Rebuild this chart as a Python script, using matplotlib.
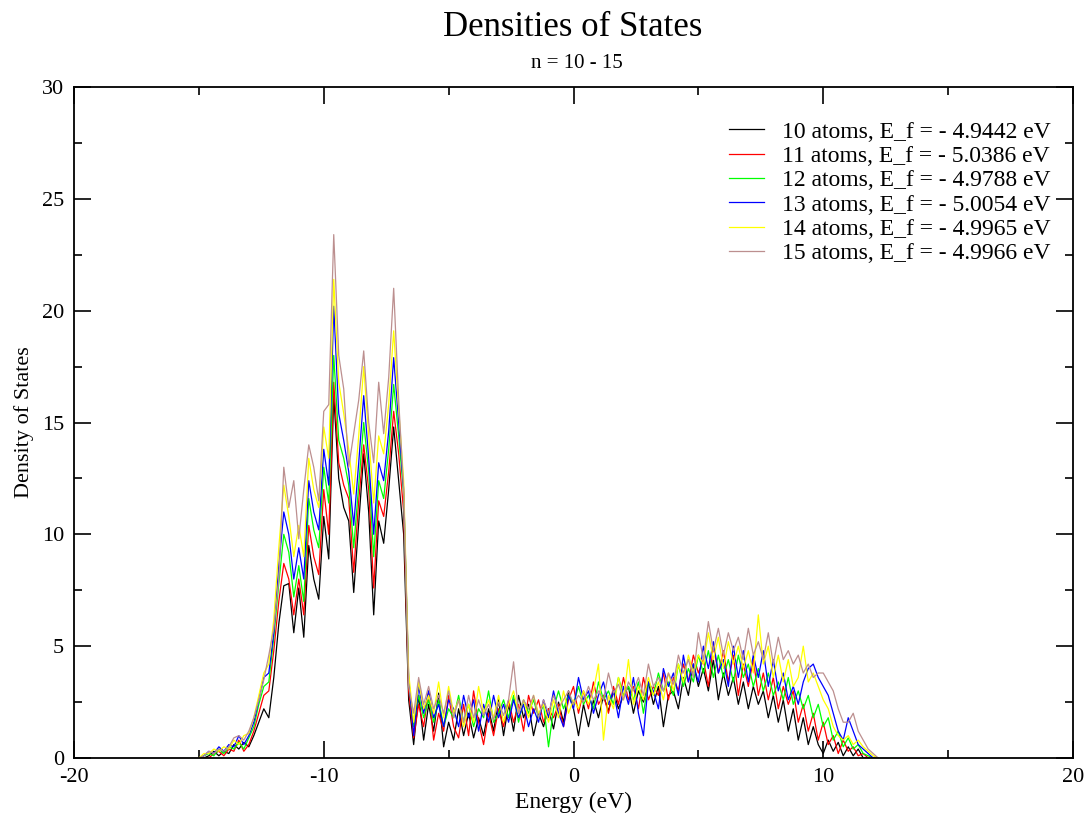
import numpy as np
import matplotlib
matplotlib.use("Agg")
import matplotlib.pyplot as plt
from matplotlib.ticker import MultipleLocator

plt.rcParams["font.family"] = ["Liberation Serif", "DejaVu Serif"]
plt.rcParams["axes.unicode_minus"] = False

# Energy grid (eV) shared by all densities of states
energy = np.round(np.linspace(-15.0, 12.2, 137), 2)

dos_10 = [
    0.0, 0.0, 0.1, 0.3, 0.1, 0.3, 0.2, 0.6, 0.4, 0.7,
    0.5, 1.0, 1.6, 2.2, 1.8, 3.6, 6.0, 7.7, 7.8, 5.6,
    7.6, 5.4, 9.5, 8.0, 7.1, 10.8, 8.9, 16.2, 12.5, 11.2,
    10.6, 7.4, 10.5, 13.6, 11.0, 6.4, 10.6, 9.6, 12.0, 14.8,
    12.4, 10.0, 2.6, 0.6, 2.8, 0.8, 2.4, 1.2, 2.9, 0.5,
    1.6, 0.8, 2.2, 1.0, 2.0, 0.9, 1.8, 1.0, 2.2, 1.2,
    2.6, 1.0, 2.4, 1.2, 2.8, 1.8, 2.4, 1.0, 2.0, 1.4,
    2.2, 1.3, 2.5, 1.6, 3.0, 2.2, 1.0, 2.4, 1.4, 2.6,
    1.8, 2.8, 2.1, 3.0, 2.2, 2.8, 3.2, 2.0, 3.0, 2.5,
    3.4, 2.4, 3.2, 1.4, 2.8, 3.0, 2.2, 3.6, 2.8, 4.2,
    3.2, 4.0, 3.0, 4.4, 2.6, 3.8, 2.8, 3.6, 2.4, 3.4,
    2.2, 3.2, 2.4, 3.0, 1.8, 2.8, 1.6, 2.6, 1.2, 2.2,
    0.8, 1.8, 0.6, 1.4, 0.6, 0.2, 0.8, 0.3, 0.7, 0.1,
    0.5, 0.1, 0.4, 0.0, 0.0, 0.0, 0.0,
]

dos_11 = [
    0.0, 0.0, 0.0, 0.2, 0.3, 0.1, 0.4, 0.3, 0.8, 0.3,
    0.6, 1.2, 2.0, 2.8, 3.0, 4.8, 7.0, 8.7, 8.0, 6.4,
    8.0, 6.4, 10.4, 9.0, 8.2, 12.0, 10.0, 16.8, 13.2, 12.2,
    11.6, 8.3, 11.5, 14.0, 12.0, 7.6, 11.5, 10.8, 12.8, 15.5,
    13.6, 11.0, 3.0, 0.9, 2.4, 1.4, 3.0, 0.8, 2.0, 1.2,
    2.8, 1.4, 0.9, 2.4, 1.0, 3.0, 1.6, 0.6, 2.0, 1.0,
    2.2, 1.4, 2.6, 1.6, 2.4, 1.2, 2.8, 2.0, 2.6, 1.6,
    2.2, 1.8, 2.4, 1.4, 2.6, 3.2, 2.0, 3.0, 2.2, 3.4,
    2.4, 2.8, 2.0, 3.2, 2.4, 3.6, 2.6, 3.2, 2.2, 3.6,
    2.6, 3.2, 2.8, 3.8, 2.6, 3.6, 3.0, 4.2, 3.4, 4.6,
    3.8, 4.4, 3.2, 5.0, 3.8, 4.8, 3.4, 4.6, 2.8, 4.2,
    3.2, 4.4, 2.8, 3.8, 2.6, 3.6, 2.2, 3.2, 2.4, 3.0,
    1.6, 2.4, 1.2, 2.0, 0.8, 1.6, 0.6, 1.0, 0.2, 0.8,
    0.3, 0.5, 0.1, 0.2, 0.0, 0.0, 0.0,
]

dos_12 = [
    0.0, 0.1, 0.2, 0.1, 0.4, 0.2, 0.5, 0.4, 0.7, 0.4,
    0.9, 1.4, 2.4, 3.2, 3.4, 5.4, 7.8, 10.0, 9.2, 7.2,
    8.6, 7.0, 11.6, 10.2, 9.4, 13.0, 11.4, 18.0, 14.2, 13.4,
    12.2, 9.4, 12.2, 15.0, 12.8, 9.0, 12.4, 11.6, 13.8, 16.7,
    14.4, 11.8, 3.4, 1.4, 2.8, 1.8, 2.6, 1.6, 2.6, 1.4,
    2.2, 1.8, 2.8, 1.6, 2.4, 1.4, 2.2, 1.8, 3.0, 1.6,
    2.0, 2.6, 1.8, 2.8, 1.6, 2.6, 2.0, 2.6, 1.8, 2.4,
    0.5, 2.2, 3.0, 2.2, 2.8, 2.4, 3.2, 2.4, 2.8, 2.2,
    3.4, 2.6, 3.0, 2.4, 3.6, 2.8, 3.2, 2.6, 3.4, 2.0,
    3.4, 2.8, 3.8, 3.0, 3.4, 2.8, 4.2, 3.2, 4.0, 3.4,
    4.6, 3.8, 4.8, 3.6, 4.6, 3.6, 4.4, 3.4, 4.6, 3.6,
    4.2, 3.2, 4.0, 3.0, 3.8, 2.8, 3.4, 2.6, 3.6, 2.4,
    3.0, 2.2, 2.8, 1.8, 2.4, 1.4, 1.8, 0.8, 1.2, 0.5,
    0.9, 0.4, 0.6, 0.2, 0.1, 0.0, 0.0,
]

dos_13 = [
    0.0, 0.1, 0.3, 0.2, 0.5, 0.3, 0.6, 0.5, 1.0, 0.6,
    1.0, 1.6, 2.6, 3.6, 3.8, 5.6, 8.6, 11.0, 10.0, 8.0,
    9.4, 8.0, 12.4, 11.0, 10.2, 13.8, 12.2, 20.2, 15.4, 14.2,
    12.8, 10.4, 13.2, 16.2, 13.4, 10.0, 13.2, 12.4, 14.6, 17.9,
    15.0, 12.0, 3.6, 1.0, 3.2, 2.0, 3.0, 1.8, 2.4, 1.4,
    2.6, 2.2, 1.4, 2.8, 1.8, 2.6, 1.2, 2.4, 1.6, 2.8,
    1.8, 2.4, 1.6, 2.6, 1.8, 2.4, 1.4, 2.2, 1.6, 2.6,
    1.8, 3.0, 2.0, 1.4, 2.8, 2.2, 3.6, 2.6, 3.0, 2.0,
    2.8, 3.4, 2.4, 3.0, 1.8, 3.2, 2.4, 3.6, 2.0, 1.0,
    3.4, 3.0, 2.2, 4.0, 3.2, 3.8, 2.8, 4.6, 3.4, 4.2,
    3.4, 5.0, 4.0, 5.2, 3.8, 4.4, 3.2, 5.0, 3.6, 4.8,
    3.4, 4.6, 3.6, 4.8, 3.2, 4.4, 3.0, 3.8, 2.6, 3.2,
    2.4, 3.4, 4.0, 4.2, 3.6, 3.2, 2.8, 2.0, 1.2, 0.8,
    1.8, 1.2, 0.6, 0.4, 0.2, 0.0, 0.0,
]

dos_14 = [
    0.0, 0.2, 0.2, 0.4, 0.3, 0.5, 0.4, 0.8, 0.6, 1.0,
    1.1, 1.8, 2.8, 3.8, 4.2, 6.2, 9.4, 12.2, 10.8, 9.0,
    10.4, 9.0, 13.4, 12.0, 11.2, 14.8, 13.4, 21.4, 16.8, 15.4,
    13.8, 11.8, 14.4, 17.5, 14.4, 11.4, 14.4, 13.6, 15.8, 19.1,
    15.6, 12.4, 3.8, 1.6, 3.4, 2.2, 2.8, 2.0, 3.4, 1.8,
    3.2, 2.0, 2.6, 1.4, 2.4, 1.6, 3.2, 2.0, 2.6, 1.8,
    2.8, 1.6, 2.4, 3.0, 2.0, 2.6, 1.8, 2.8, 2.0, 2.4,
    1.6, 2.6, 1.8, 3.0, 2.0, 2.6, 2.2, 3.0, 2.4, 3.0,
    4.2, 0.8, 2.8, 2.2, 3.6, 2.6, 4.4, 2.4, 3.2, 2.6,
    3.6, 2.8, 3.4, 2.6, 3.8, 3.0, 4.2, 3.4, 4.6, 3.8,
    4.6, 4.2, 5.6, 4.4, 5.4, 4.0, 5.2, 4.2, 5.0, 4.0,
    4.8, 3.8, 6.4, 4.2, 5.0, 3.6, 4.6, 3.4, 4.4, 3.2,
    3.6, 5.0, 3.4, 3.8, 3.2, 2.6, 2.2, 1.4, 1.0, 0.8,
    1.0, 0.6, 0.8, 0.5, 0.3, 0.1, 0.0,
]

dos_15 = [
    0.0, 0.1, 0.3, 0.2, 0.4, 0.3, 0.5, 0.9, 1.0, 0.8,
    1.2, 1.8, 2.6, 3.5, 4.6, 5.8, 8.0, 13.0, 11.2, 12.4,
    9.8, 12.0, 14.0, 13.0, 11.5, 15.5, 15.8, 23.4, 18.0, 16.5,
    13.0, 14.5, 16.0, 18.2, 15.0, 13.2, 16.8, 14.5, 17.0, 21.0,
    16.0, 12.0, 3.2, 2.0, 3.6, 2.4, 3.2, 2.2, 2.8, 2.0,
    3.0, 1.8, 2.6, 1.6, 2.8, 1.8, 2.6, 1.9, 2.4, 1.7,
    2.5, 1.9, 2.6, 4.3, 2.0, 2.6, 2.2, 2.8, 1.8, 2.6,
    2.0, 2.8, 2.2, 2.6, 3.0, 2.4, 2.8, 2.5, 3.2, 2.6,
    3.0, 2.6, 3.8, 2.9, 3.3, 2.6, 3.4, 3.0, 3.6, 2.8,
    4.2, 3.2, 3.6, 3.0, 3.8, 3.3, 4.6, 3.8, 4.4, 3.6,
    5.6, 4.4, 6.1, 4.8, 5.8, 4.6, 5.6, 4.8, 5.4, 4.4,
    5.8, 4.6, 5.2, 4.4, 5.6, 4.2, 5.4, 4.4, 4.8, 4.2,
    4.6, 3.8, 4.2, 3.6, 3.8, 3.8, 3.4, 3.0, 2.2, 1.6,
    1.6, 2.0, 1.2, 0.8, 0.4, 0.2, 0.0,
]

labels = [
    "10 atoms, E_f = - 4.9442 eV",
    "11 atoms, E_f = - 5.0386 eV",
    "12 atoms, E_f = - 4.9788 eV",
    "13 atoms, E_f = - 5.0054 eV",
    "14 atoms, E_f = - 4.9965 eV",
    "15 atoms, E_f = - 4.9966 eV",
]
colors = ["#000000", "#ff0000", "#00ff00", "#0000ff", "#ffff00", "#bc8f8f"]
series = [dos_10, dos_11, dos_12, dos_13, dos_14, dos_15]

W, H = 1089, 814
fig = plt.figure(figsize=(W / 100, H / 100), dpi=100)
ax = fig.add_axes([74 / W, 1 - 758 / H, (1073 - 74) / W, (758 - 87) / H])

for dos, col, lab in zip(series, colors, labels):
    ax.plot(energy, dos, color=col, lw=0.9, label=lab)

ax.set_xlim(-20, 20)
ax.set_ylim(0, 30)
ax.xaxis.set_major_locator(MultipleLocator(10))
ax.xaxis.set_minor_locator(MultipleLocator(5))
ax.yaxis.set_major_locator(MultipleLocator(5))
ax.yaxis.set_minor_locator(MultipleLocator(2.5))
ax.tick_params(which="both", direction="in", top=True, right=True,
               width=1.2, labelsize=16, pad=7)
ax.tick_params(which="major", length=12)
ax.tick_params(which="minor", length=6)
for sp in ax.spines.values():
    sp.set_linewidth(1.3)

ax.set_xlabel("Energy (eV)", fontsize=17, labelpad=4)
ax.set_ylabel("Density of States", fontsize=16, labelpad=6)

fig.text(573 / W, 1 - 27 / H, "Densities of States", ha="center", va="center",
         fontsize=25)
fig.text(577 / W, 1 - 64 / H, "n = 10 - 15", ha="center", va="center",
         fontsize=15)

ax.legend(loc="upper left", bbox_to_anchor=(729 / W, 1 - 121 / H),
          bbox_transform=fig.transFigure, frameon=False, fontsize=17,
          handlelength=1.5, handletextpad=0.75, labelspacing=0.12,
          borderpad=0, borderaxespad=0)

fig.savefig("out.png", dpi=100)
